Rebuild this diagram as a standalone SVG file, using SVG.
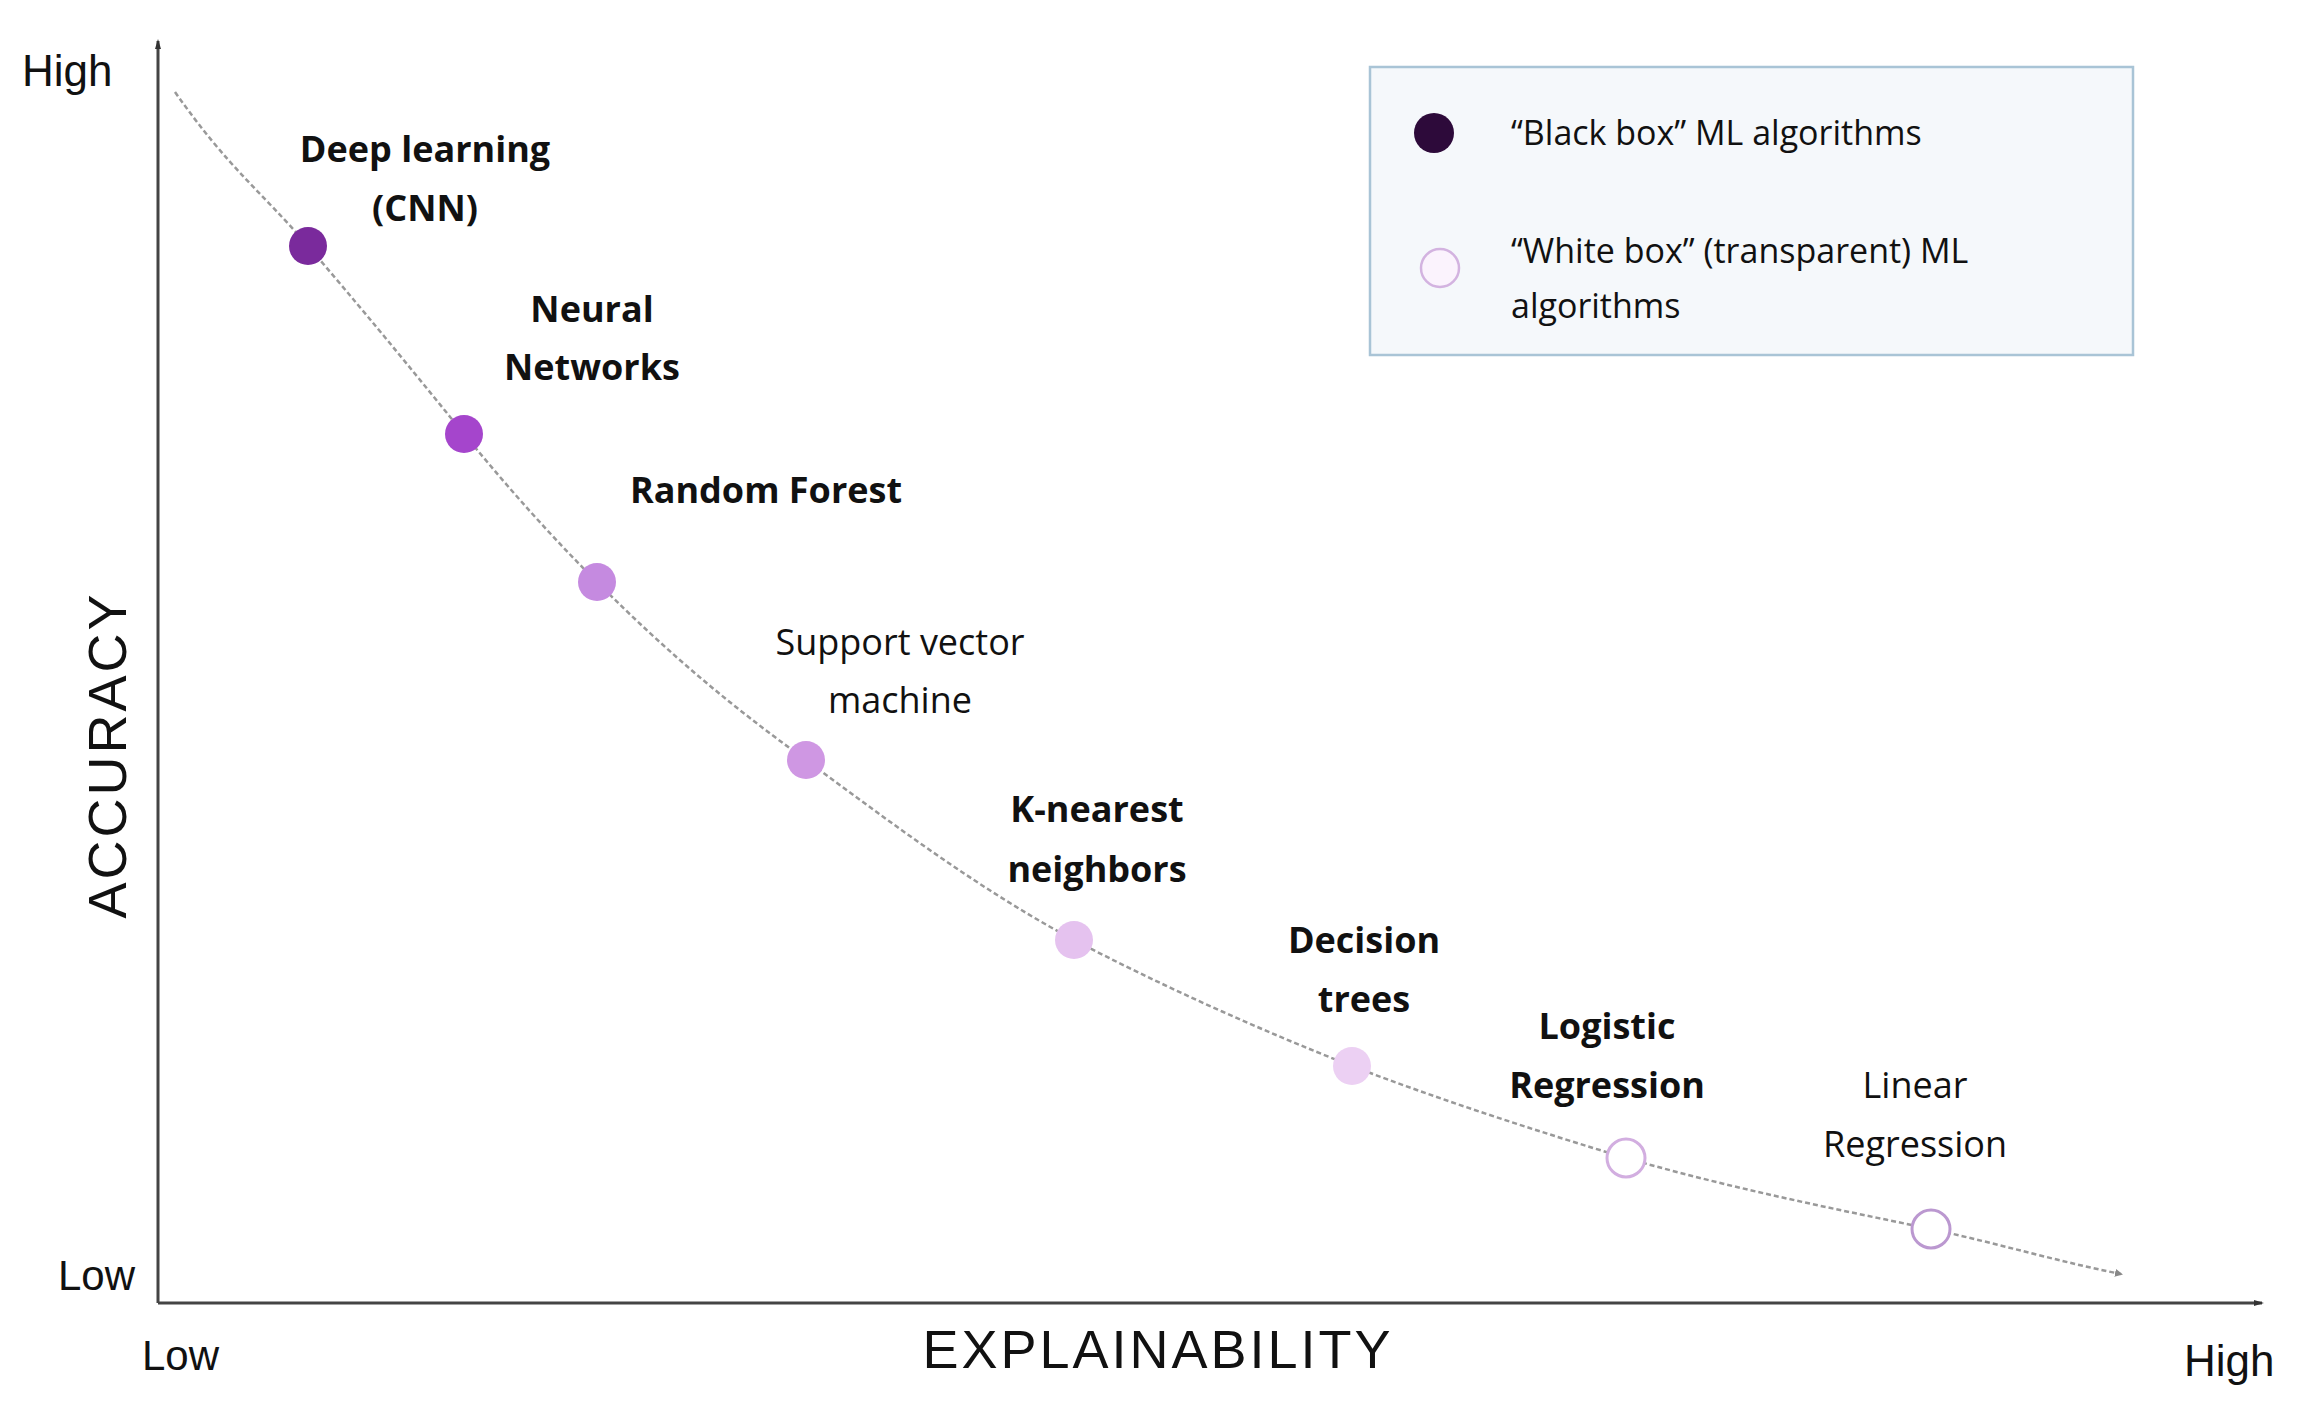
<svg xmlns="http://www.w3.org/2000/svg" width="2306" height="1408" viewBox="0 0 2306 1408">
<style>
.ax{font-family:"Liberation Sans",Arial,sans-serif;fill:#111}
.lb{font-family:"Open Sans","Liberation Sans",sans-serif;font-size:36px;fill:#111;text-anchor:middle}
.b{font-weight:bold}
.lg{font-family:"Open Sans","Liberation Sans",sans-serif;font-size:34px;fill:#111}
</style>
<defs>
<marker id="ah" markerWidth="8" markerHeight="8" refX="6" refY="4" orient="auto" markerUnits="userSpaceOnUse"><path d="M0,0 L8,4 L0,8 Z" fill="#888"/></marker>
<marker id="ax" markerWidth="10" markerHeight="10" refX="8" refY="5" orient="auto" markerUnits="userSpaceOnUse"><path d="M0,2 L10,5 L0,8 Z" fill="#333"/></marker>
</defs>
<rect width="2306" height="1408" fill="#fff"/>
<g id="axes">
<line x1="158" y1="1303" x2="158" y2="41" stroke="#444" stroke-width="3" marker-end="url(#ax)"/>
<line x1="158" y1="1303" x2="2262" y2="1303" stroke="#444" stroke-width="3" marker-end="url(#ax)"/>
<text class="ax" x="22" y="86" font-size="44">High</text>
<text class="ax" x="58" y="1290" font-size="42">Low</text>
<text class="ax" x="142" y="1370" font-size="42">Low</text>
<text class="ax" x="2184" y="1376" font-size="44">High</text>
<text class="ax" x="1158" y="1368" font-size="54" text-anchor="middle" letter-spacing="3">EXPLAINABILITY</text>
<text class="ax" x="0" y="0" font-size="54" text-anchor="middle" letter-spacing="3" transform="translate(126,755) rotate(-90)">ACCURACY</text>
</g>
<g id="connectors">
<path d="M175,92 C230,170 260,190 308,246 C380,330 420,380 464,434 C510,490 550,535 597,582 C670,655 730,705 806,760 C890,822 980,890 1074,940 C1160,985 1260,1030 1352,1066 C1440,1100 1540,1132 1626,1158 C1730,1188 1830,1208 1931,1229 C2000,1244 2060,1262 2121,1274" fill="none" stroke="#999" stroke-width="2.5" stroke-dasharray="5 3" marker-end="url(#ah)"/>
</g>
<g id="dl"><circle cx="308" cy="246" r="19" fill="#7a2a9c"/><text class="lb b" x="425" y="162">Deep learning</text><text class="lb b" x="425" y="221">(CNN)</text></g>
<g id="nn"><circle cx="464" cy="434" r="19" fill="#a545cc"/><text class="lb b" x="592" y="322">Neural</text><text class="lb b" x="592" y="380">Networks</text></g>
<g id="rf"><circle cx="597" cy="582" r="19" fill="#c58ae0"/><text class="lb b" x="766" y="503">Random Forest</text></g>
<g id="svm"><circle cx="806" cy="760" r="19" fill="#cf97e3"/><text class="lb" x="900" y="655">Support vector</text><text class="lb" x="900" y="713">machine</text></g>
<g id="knn"><circle cx="1074" cy="940" r="19" fill="#e5c2ef"/><text class="lb b" x="1097" y="822">K-nearest</text><text class="lb b" x="1097" y="882">neighbors</text></g>
<g id="dt"><circle cx="1352" cy="1066" r="19" fill="#ecd0f3"/><text class="lb b" x="1364" y="953">Decision</text><text class="lb b" x="1364" y="1012">trees</text></g>
<g id="logr"><circle cx="1626" cy="1158" r="19" fill="#fff" stroke="#d2aee0" stroke-width="3"/><text class="lb b" x="1607" y="1039">Logistic</text><text class="lb b" x="1607" y="1098">Regression</text></g>
<g id="linr"><circle cx="1931" cy="1229" r="19" fill="#fff" stroke="#bb98d0" stroke-width="3"/><text class="lb" x="1915" y="1098">Linear</text><text class="lb" x="1915" y="1157">Regression</text></g>
<g id="legend">
<rect x="1370" y="67" width="763" height="288" fill="#f5f8fb" stroke="#a9c4d6" stroke-width="2.5"/>
<circle cx="1434" cy="133" r="20" fill="#2d0a3a"/>
<text class="lg" x="1511" y="145">“Black box” ML algorithms</text>
<circle cx="1440" cy="268" r="19" fill="#fbf3fd" stroke="#d3b3e0" stroke-width="2.5"/>
<text class="lg" x="1511" y="263">“White box” (transparent) ML</text>
<text class="lg" x="1511" y="318">algorithms</text>
</g>
</svg>
